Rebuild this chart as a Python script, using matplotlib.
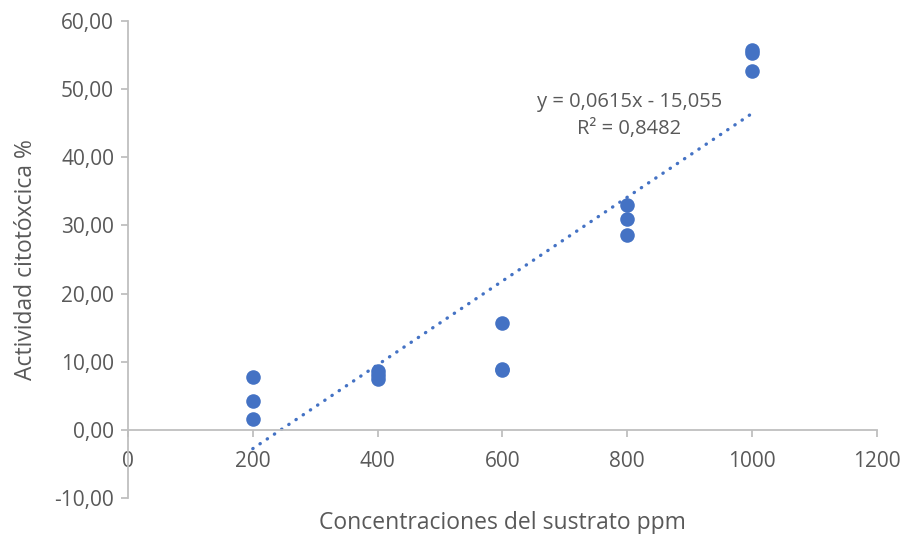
import numpy as np
import matplotlib.pyplot as plt

# concentraciones (ppm) y actividad citotoxica (%)
conc = [200, 200, 200, 400, 400, 400, 600, 600, 600,
        800, 800, 800, 1000, 1000, 1000]
actividad = [7.8, 4.3, 1.6, 8.6, 8.0, 7.5, 15.7, 8.9, 8.8,
             33.0, 30.9, 28.6, 55.7, 55.3, 52.6]

# linea de tendencia (Excel)
pendiente = 0.0615
intercepto = -15.055
r2 = 0.8482

x_ticks = [0, 200, 400, 600, 800, 1000, 1200]
y_ticks = [-10, 0, 10, 20, 30, 40, 50, 60]

azul = '#4472C4'
gris = '#595959'
eje = '#BFBFBF'

plt.rcParams['font.family'] = ['Open Sans', 'DejaVu Sans']

fig = plt.figure(figsize=(9.05, 5.34), dpi=100)
ax = fig.add_axes([0.1414, 0.0674, 0.8276, 0.8933])

ax.scatter(conc, actividad, s=110, color=azul, zorder=3, linewidths=0)

xt = np.array([min(conc), max(conc)])
ax.plot(xt, pendiente*xt + intercepto, color=azul, lw=2.4,
        linestyle=(0, (0.1, 2.5)), dash_capstyle='round', zorder=2)

ax.text(803, 48.1, 'y = 0,0615x - 15,055', ha='center', va='center',
        fontsize=14.5, color=gris)
ax.text(803, 44.1, 'R² = 0,8482', ha='center', va='center',
        fontsize=14.5, color=gris)

ax.set_xlim(0, 1200)
ax.set_ylim(-10, 60)
ax.set_xticks(x_ticks)
ax.set_yticks(y_ticks)
ax.set_xticklabels([str(v) for v in x_ticks])
ax.set_yticklabels([('%.2f' % v).replace('.', ',') for v in y_ticks])

for s in ['top', 'right']:
    ax.spines[s].set_visible(False)
ax.spines['bottom'].set_position(('data', 0))
for s in ['left', 'bottom']:
    ax.spines[s].set_color(eje)
    ax.spines[s].set_linewidth(1.3)

ax.tick_params(axis='both', colors=eje, labelcolor=gris, labelsize=15,
               length=5, width=1.3)
ax.tick_params(axis='x', pad=10)
ax.tick_params(axis='y', pad=5)

ax.set_xlabel('Concentraciones del sustrato ppm', fontsize=16.5, color=gris)
ax.xaxis.set_label_coords(0.5, -0.028)
ax.set_ylabel('Actividad citotóxcica %', fontsize=16.5, color=gris)
ax.yaxis.set_label_coords(-0.12, 0.5)

fig.savefig('out.png', dpi=100)
